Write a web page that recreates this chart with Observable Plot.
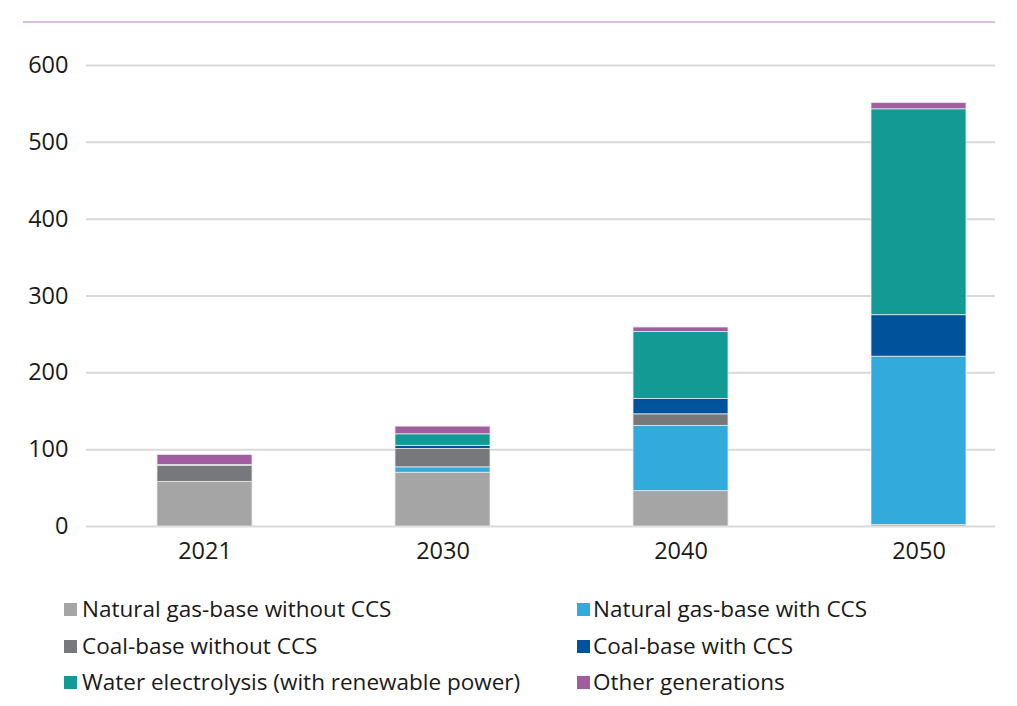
<!DOCTYPE html>
<html>
<head>
<meta charset="utf-8">
<script src="https://cdn.jsdelivr.net/npm/d3@7"></script>
<script src="https://cdn.jsdelivr.net/npm/@observablehq/plot@0.6"></script>
<style>
  html, body { margin: 0; padding: 0; background: #fff; }
  #wrap { position: relative; width: 1017px; height: 706px; font-family: "Open Sans", sans-serif; color: #1a1a1a; }
  #topline { position: absolute; left: 23px; top: 21px; width: 972px; height: 2px; background: #dcbde3; }
  #chart { position: absolute; left: 0; top: 0; }
  #legend { position: absolute; left: 0; top: 594px; width: 1017px; }
  .item { position: absolute; font-size: 22.5px; line-height: 30px; white-space: nowrap; }
  .sw { display: inline-block; width: 13px; height: 13px; margin-right: 5px; vertical-align: 1px; }
</style>
</head>
<body>
<div id="wrap">
  <div id="topline"></div>
  <div id="chart"></div>
  <div id="legend"></div>
</div>
<script>
const years = ["2021", "2030", "2040", "2050"];
const seriesNames = [
  "Natural gas-base without CCS",
  "Natural gas-base with CCS",
  "Coal-base without CCS",
  "Coal-base with CCS",
  "Water electrolysis (with renewable power)",
  "Other generations"
];
const seriesColors = ["#a5a5a5", "#33aadc", "#76787b", "#00529b", "#129b95", "#a05ea0"];
// stacking order bottom to top
const stackOrder = [
  "Natural gas-base without CCS",
  "Natural gas-base with CCS",
  "Coal-base without CCS",
  "Coal-base with CCS",
  "Water electrolysis (with renewable power)",
  "Other generations"
];
const natGasNoCCS = [58, 70, 46, 2];
const natGasCCS   = [0, 7, 85, 219];
const coalNoCCS   = [21, 24, 15, 0];
const coalCCS     = [0, 4, 20, 54];
const water       = [1, 15, 87, 268];
const other       = [13, 10, 6, 8];
const yTicks = [0, 100, 200, 300, 400, 500, 600];

const valuesBySeries = {
  "Natural gas-base without CCS": natGasNoCCS,
  "Natural gas-base with CCS": natGasCCS,
  "Coal-base without CCS": coalNoCCS,
  "Coal-base with CCS": coalCCS,
  "Water electrolysis (with renewable power)": water,
  "Other generations": other
};
const data = [];
for (const s of stackOrder) {
  years.forEach((y, i) => data.push({year: y, series: s, value: valuesBySeries[s][i]}));
}

const chart = Plot.plot({
  width: 1017,
  height: 580,
  marginLeft: 86,
  marginRight: 22,
  marginTop: 65,
  marginBottom: 54,
  style: {fontFamily: "Open Sans, sans-serif", fontSize: "23.5px", color: "#1a1a1a", background: "transparent"},
  x: {domain: years, range: [86, 1038], paddingInner: 0.6, paddingOuter: 0.3, label: null},
  y: {domain: [0, 600], ticks: yTicks, label: null},
  color: {domain: seriesNames, range: seriesColors},
  marks: [
    Plot.ruleY(yTicks, {stroke: "#d9d9d9", strokeWidth: 2}),
    Plot.barY(data, Plot.stackY({order: stackOrder, x: "year", y: "value", fill: "series", stroke: "#e8e8e8", strokeWidth: 0.8})),
    Plot.axisX({tickSize: 0, tickPadding: 16, fontSize: 23.5}),
    Plot.axisY({ticks: yTicks, tickSize: 0, tickPadding: 18, fontSize: 23.5, tickFormat: d => String(d)})
  ]
});
document.getElementById("chart").appendChild(chart);

const legend = document.getElementById("legend");
const legendPos = [
  [64, 0], [577, 0],
  [64, 37], [577, 37],
  [64, 73], [577, 73]
];
seriesNames.forEach((name, i) => {
  const el = document.createElement("div");
  el.className = "item";
  el.style.left = legendPos[i][0] + "px";
  el.style.top = legendPos[i][1] + "px";
  const sw = document.createElement("span");
  sw.className = "sw";
  sw.style.background = seriesColors[i];
  sw.style.marginRight = (i % 2 === 1 ? 3 : 5) + "px";
  el.appendChild(sw);
  el.appendChild(document.createTextNode(name));
  legend.appendChild(el);
});
</script>
</body>
</html>
